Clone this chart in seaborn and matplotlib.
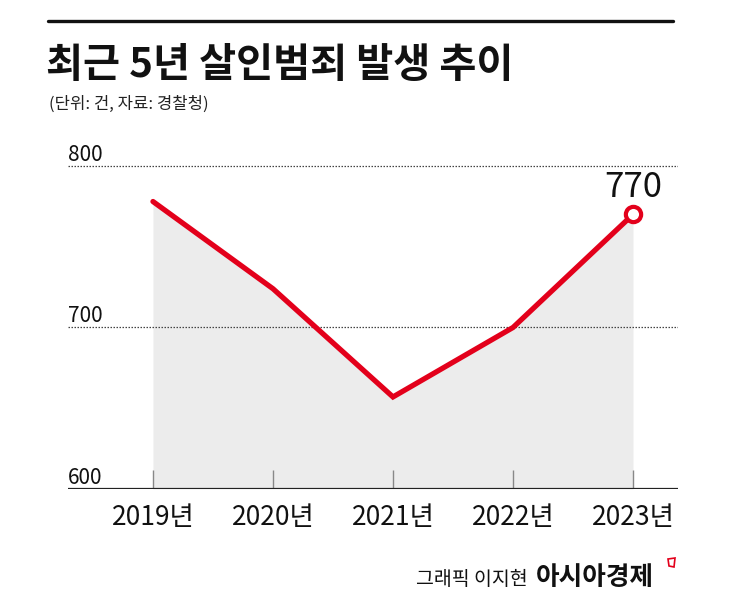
import matplotlib
matplotlib.use("Agg")
import matplotlib.pyplot as plt
import matplotlib.transforms as mtrans
import seaborn as sns
import pandas as pd
from matplotlib.lines import Line2D
from matplotlib.patches import Polygon

years = ["2019년", "2020년", "2021년", "2022년", "2023년"]
cases = [778, 724, 657, 700, 770]
y_ticks = [600, 700, 800]

title = "최근 5년 살인범죄 발생 추이"
subtitle = "(단위: 건, 자료: 경찰청)"
credit1 = "그래픽 이지현"
credit2 = "아시아경제"

sns.set_style("white")
plt.rcParams['font.family'] = ['Noto Sans CJK KR', 'DejaVu Sans']

RED = "#e3001b"
W, H = 745, 606
fig = plt.figure(figsize=(W / 100, H / 100), dpi=100)

def fx(px):
    return px / W

def fy(py):
    return 1 - py / H

# axes placement: x 68..678 px, y 150..489 px
ax = fig.add_axes([fx(68), fy(489), fx(678) - fx(68), fy(150) - fy(489)])

df = pd.DataFrame({"idx": range(len(years)), "year": years, "cases": cases})

ax.set_xlim(-0.708, 4.375)
ax.set_ylim(600, 809.9)

# fill under line
ax.fill_between(df["idx"], df["cases"], 600, color="#ececec", lw=0, zorder=1)

# gridlines
for v in y_ticks[1:]:
    ax.axhline(v, color="#444444", lw=0.9, ls=(0, (1.2, 1.2)), zorder=2)
ax.axhline(600, color="#222222", lw=1.6, zorder=4)

# tick marks
ax.vlines(df["idx"], 600, 611.8, color="#888888", lw=1.0, zorder=3)

sns.lineplot(data=df, x="idx", y="cases", color=RED, lw=3.8, ax=ax,
             zorder=5, solid_capstyle="round", solid_joinstyle="miter")

# end marker
ax.plot([df["idx"].iloc[-1]], [cases[-1]], marker="o", ms=11, mfc="white",
        mec=RED, mew=3, zorder=6, clip_on=False)
ax.annotate(str(cases[-1]), (df["idx"].iloc[-1], cases[-1]), xytext=(0, 7),
            textcoords="offset points", ha="center", va="bottom",
            fontsize=25, color="#111111", zorder=7)

# y labels
trans = mtrans.blended_transform_factory(ax.transAxes, ax.transData)
for v in y_ticks:
    ax.text(0.0, v, str(v), transform=trans, ha="left", va="bottom",
            fontsize=15, color="#111111")

ax.set_xticks([])
ax.set_yticks([])
for s in ax.spines.values():
    s.set_visible(False)
ax.set_xlabel("")
ax.set_ylabel("")
ax.patch.set_alpha(0)

# x labels
for i, lab in enumerate(years):
    x_px = 153 + i * 120
    fig.text(fx(x_px), fy(525), lab, ha="center", va="baseline",
             fontsize=19, color="#111111")

# top rule
fig.add_artist(Line2D([fx(48), fx(673)], [fy(21), fy(21)], color="#111111", lw=2.4))

fig.text(fx(46), fy(77), title, ha="left", va="baseline", fontsize=29,
         fontweight="bold", color="#111111")
fig.text(fx(49), fy(109), subtitle, ha="left", va="baseline", fontsize=12,
         color="#222222")

fig.text(fx(528), fy(585), credit1, ha="right", va="baseline", fontsize=14,
         color="#111111")
fig.text(fx(536), fy(585), credit2, ha="left", va="baseline", fontsize=18.5,
         fontweight="bold", color="#111111")
fig.add_artist(Polygon([[fx(668), fy(559)], [fx(675), fy(558)], [fx(674), fy(567)], [fx(669), fy(566)]],
                       closed=True, fill=False, edgecolor=RED, lw=1.2))

fig.savefig("out.png", dpi=100)
